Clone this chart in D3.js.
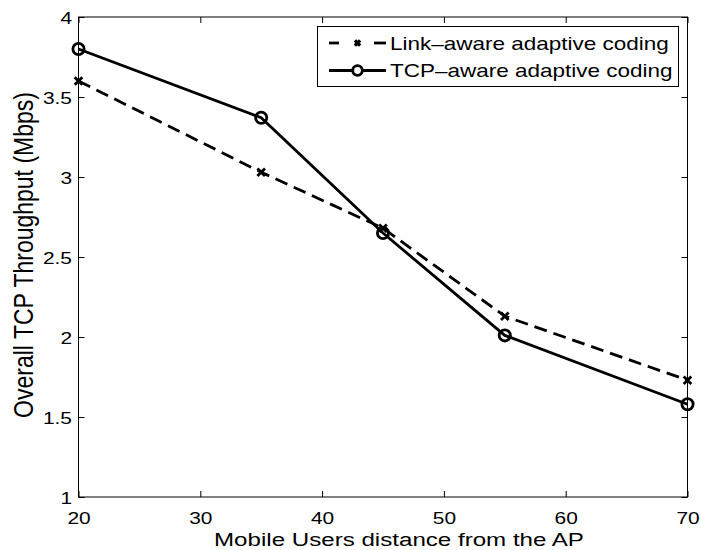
<!DOCTYPE html>
<html>
<head>
<meta charset="utf-8">
<script src="https://cdn.jsdelivr.net/npm/d3@7"></script>
<style>
  html, body { margin: 0; padding: 0; background: #fff; }
  svg { display: block; font-family: "Liberation Sans", Arial, Helvetica, sans-serif; }
</style>
</head>
<body>
<svg id="chart" width="701" height="550"></svg>
<script>
// Distance of mobile users from the AP
const distances = [20, 35, 45, 55, 70];
// Overall TCP throughput (Mbps) per scheme
const linkAware = [3.60, 3.03, 2.68, 2.13, 1.73];
const tcpAware  = [3.80, 3.37, 2.65, 2.01, 1.58];
const seriesNames = ["Link\u2013aware adaptive coding", "TCP\u2013aware adaptive coding"];
const xTicks = [20, 30, 40, 50, 60, 70];
const yTicks = [1, 1.5, 2, 2.5, 3, 3.5, 4];
const xLabel = "Mobile Users distance from the AP";
const yLabel = "Overall TCP Throughput (Mbps)";

const svg = d3.select("#chart");
const m = { left: 78.5, right: 687.5, top: 17, bottom: 497 };

const x = d3.scaleLinear().domain([20, 70]).range([m.left, m.right]);
const y = d3.scaleLinear().domain([1, 4]).range([m.bottom, m.top]);

const tickLen = 6;
const stretch = 1.23;   // glyphs are drawn horizontally widened
const tickFs = 17;

// Axes with inward ticks on all four sides
const axisG = svg.append("g");
const gb = axisG.append("g").attr("transform", `translate(0,${m.bottom})`)
  .call(d3.axisBottom(x).tickValues(xTicks).tickSizeInner(-tickLen).tickSizeOuter(0).tickPadding(15).tickFormat(d3.format("d")));
axisG.append("g").attr("transform", `translate(0,${m.top})`)
  .call(d3.axisTop(x).tickValues(xTicks).tickSizeInner(-tickLen).tickSizeOuter(0).tickFormat(""));
const gl = axisG.append("g").attr("transform", `translate(${m.left},0)`)
  .call(d3.axisLeft(y).tickValues(yTicks).tickSizeInner(-tickLen).tickSizeOuter(0).tickFormat(d3.format("")));
axisG.append("g").attr("transform", `translate(${m.right},0)`)
  .call(d3.axisRight(y).tickValues(yTicks).tickSizeInner(-tickLen).tickSizeOuter(0).tickFormat(""));

axisG.selectAll(".domain").remove();
axisG.selectAll(".tick line").attr("stroke", "#000").attr("stroke-width", 1);
axisG.selectAll(".tick text").attr("fill", "#000").attr("font-size", tickFs)
  .attr("font-family", "Liberation Sans, Arial, sans-serif");
gb.selectAll(".tick text").attr("transform", `scale(${stretch},1)`);
gl.selectAll(".tick text").attr("x", -6.5 / stretch).attr("dy", "0.36em")
  .attr("transform", `scale(${stretch},1)`);

// Box around the plot area
svg.append("rect")
  .attr("x", m.left).attr("y", m.top)
  .attr("width", m.right - m.left).attr("height", m.bottom - m.top)
  .attr("fill", "none").attr("stroke", "#000").attr("stroke-width", 1);

// Axis titles
svg.append("text")
  .attr("transform", `translate(399,545.5) scale(1.27,1)`)
  .attr("text-anchor", "middle").attr("font-size", 19).text(xLabel);
svg.append("text")
  .attr("transform", `translate(33,${(m.top + m.bottom) / 2 - 2}) scale(${stretch},1) rotate(-90)`)
  .attr("text-anchor", "middle").attr("font-size", 23).text(yLabel);

const line = d3.line().x(d => x(d[0])).y(d => y(d[1]));
const linkPts = distances.map((d, i) => [d, linkAware[i]]);
const tcpPts = distances.map((d, i) => [d, tcpAware[i]]);

const lw = 2.8;

// Dashed series with x markers
svg.append("path").datum(linkPts)
  .attr("d", line).attr("fill", "none").attr("stroke", "#000")
  .attr("stroke-width", lw).attr("stroke-dasharray", "13,7");

function xMark(g, cx, cy, r, w) {
  g.append("path")
    .attr("d", `M${cx - r},${cy - r}L${cx + r},${cy + r}M${cx - r},${cy + r}L${cx + r},${cy - r}`)
    .attr("stroke", "#000").attr("stroke-width", w).attr("fill", "none");
}
const markG = svg.append("g");
linkPts.forEach(p => xMark(markG, x(p[0]), y(p[1]), 3.8, 2.8));

// Solid series with circle markers
svg.append("path").datum(tcpPts)
  .attr("d", line).attr("fill", "none").attr("stroke", "#000").attr("stroke-width", lw);
svg.append("g").selectAll("circle").data(tcpPts).join("circle")
  .attr("cx", d => x(d[0])).attr("cy", d => y(d[1])).attr("r", 5.6)
  .attr("fill", "none").attr("stroke", "#000").attr("stroke-width", 2.8);

// Legend
const lg = svg.append("g");
lg.append("rect").attr("x", 317.5).attr("y", 26.5).attr("width", 361).attr("height", 60)
  .attr("fill", "#fff").attr("stroke", "#000").attr("stroke-width", 1);
const rowY = [43, 70.5];
[[329, 339], [374, 386]].forEach(([a, b]) => {
  lg.append("line").attr("x1", a).attr("x2", b).attr("y1", rowY[0]).attr("y2", rowY[0])
    .attr("stroke", "#000").attr("stroke-width", lw);
});
xMark(lg, 357.5, rowY[0], 2.6, 3.4);
lg.append("line").attr("x1", 329).attr("x2", 386).attr("y1", rowY[1]).attr("y2", rowY[1])
  .attr("stroke", "#000").attr("stroke-width", lw);
lg.append("circle").attr("cx", 357.5).attr("cy", rowY[1]).attr("r", 4.8)
  .attr("fill", "#fff").attr("stroke", "#000").attr("stroke-width", 2.8);
seriesNames.forEach((s, i) => {
  lg.append("text")
    .attr("transform", `translate(390,${rowY[i]}) scale(${stretch},1)`)
    .attr("dy", "0.36em").attr("font-size", 18.3).text(s);
});
</script>
</body>
</html>
